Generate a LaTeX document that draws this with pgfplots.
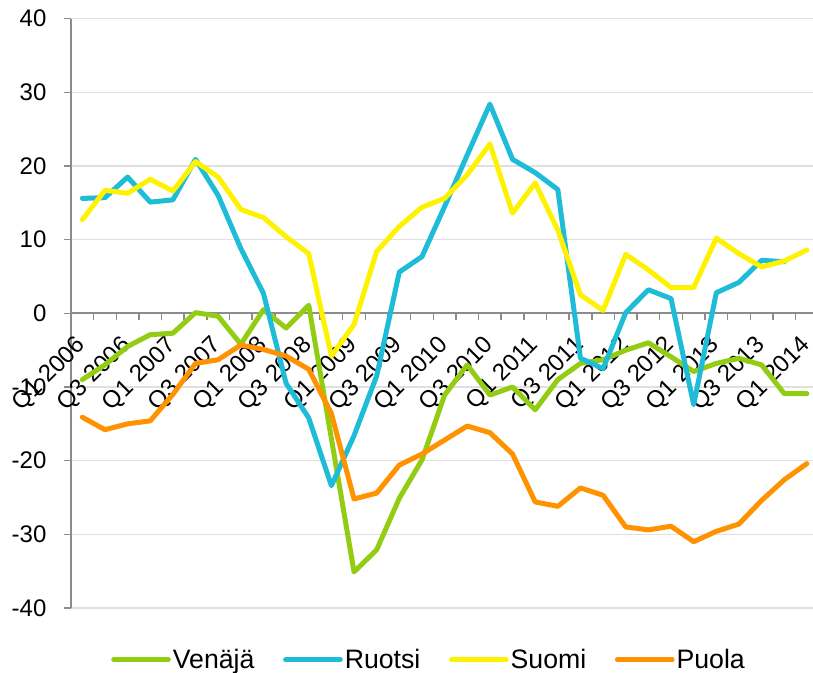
\documentclass[border=0pt]{standalone}
\usepackage{fontspec}
\setmainfont{Liberation Sans}
\usepackage{pgfplots}
\pgfplotsset{compat=1.18}
\definecolor{cGreen}{HTML}{92CD14}
\definecolor{cBlue}{HTML}{1FBCD8}
\definecolor{cYellow}{HTML}{FFF200}
\definecolor{cOrange}{HTML}{FF9200}
\definecolor{axgray}{HTML}{8C8C8C}
\definecolor{gridgray}{HTML}{E0E0E0}
\begin{document}
\begin{tikzpicture}
\begin{axis}[
  scale only axis,
  width=556.5pt, height=442pt,
  xmin=-0.5, xmax=32.27, ymin=-40, ymax=40,
  axis y line*=left,
  axis x line*=middle,
  x axis line style={axgray, line width=1.4pt, -},
  y axis line style={axgray, line width=1.4pt, -},
  ytick={-40,-30,...,40},
  yticklabels={-40,-30,-20,-10,0,10,20,30,40},
  ymajorgrids,
  grid style={gridgray, line width=1pt},
  xtick={0,2,...,32},
  xticklabels={Q1 2006,Q3 2006,Q1 2007,Q3 2007,Q1 2008,Q3 2008,Q1 2009,Q3 2009,Q1 2010,Q3 2010,Q1 2011,Q3 2011,Q1 2012,Q3 2012,Q1 2013,Q3 2013,Q1 2014},
  minor xtick={-0.5,0.5,...,31.5},
  major x tick style={draw=none},
  minor x tick style={axgray, line width=1.1pt},
  y tick style={axgray, line width=1.1pt},
  tick align=outside,
  major tick length=5.25pt, minor tick length=5.25pt,
  ticklabel style={font=\fontsize{18}{20}\selectfont},
  yticklabel style={anchor=east, inner sep=0pt},
  yticklabel shift=13pt,
  xticklabel style={rotate=45, anchor=east, inner sep=0pt},
  xticklabel shift=16pt,
  legend columns=4,
  legend style={at={(0.4825,-0.088)}, anchor=center, draw=none, fill=none,
    font=\fontsize{20}{22}\selectfont,
    nodes={inner sep=1.5pt},
    /tikz/every even column/.append style={column sep=20pt}},
  legend image code/.code={\draw[#1] (0pt,0pt) -- (41pt,0pt);},
  every axis plot/.append style={line width=3.75pt, line join=round, line cap=round, mark=none},
]
\coordinate (bl) at (rel axis cs:0,0);
\coordinate (tr) at (rel axis cs:1,1);
\addplot[cGreen] coordinates {
(0,-9.0)(1,-7.0)(2,-4.5)(3,-2.9)(4,-2.7)(5,0.1)(6,-0.4)(7,-4.2)(8,0.5)(9,-2.0)(10,1.1)
(11,-17.0)(12,-35.1)(13,-32.1)(14,-25.1)(15,-19.9)(16,-11.1)(17,-7.0)(18,-11.1)(19,-10.0)(20,-13.1)
(21,-9.0)(22,-6.8)(23,-6.3)(24,-5.0)(25,-4.0)(26,-5.9)(27,-7.9)(28,-6.8)(29,-6.1)(30,-7.0)(31,-10.9)(32,-10.9)};
\addlegendentry{Venäjä}
\addplot[cBlue] coordinates {
(0,15.6)(1,15.7)(2,18.5)(3,15.1)(4,15.4)(5,20.9)(6,16.0)(7,8.8)(8,2.7)(9,-9.5)(10,-14.2)
(11,-23.4)(12,-16.6)(13,-8.5)(14,5.6)(15,7.7)(16,14.5)(17,21.5)(18,28.4)(19,20.9)(20,19.1)
(21,16.8)(22,-6.1)(23,-7.5)(24,0.1)(25,3.2)(26,2.0)(27,-12.4)(28,2.8)(29,4.2)(30,7.2)(31,7.0)};
\addlegendentry{Ruotsi}
\addplot[cYellow] coordinates {
(0,12.7)(1,16.7)(2,16.3)(3,18.2)(4,16.6)(5,20.6)(6,18.5)(7,14.1)(8,13.0)(9,10.4)(10,8.1)
(11,-5.8)(12,-1.5)(13,8.4)(14,11.8)(15,14.4)(16,15.6)(17,18.8)(18,23.0)(19,13.6)(20,17.7)
(21,11.3)(22,2.5)(23,0.4)(24,8.0)(25,5.9)(26,3.5)(27,3.5)(28,10.2)(29,8.1)(30,6.3)(31,7.1)(32,8.6)};
\addlegendentry{Suomi}
\addplot[cOrange] coordinates {
(0,-14.1)(1,-15.8)(2,-15.0)(3,-14.6)(4,-11.0)(5,-6.8)(6,-6.3)(7,-4.3)(8,-4.9)(9,-5.8)(10,-7.6)
(11,-13.6)(12,-25.2)(13,-24.4)(14,-20.6)(15,-19.1)(16,-17.2)(17,-15.3)(18,-16.2)(19,-19.1)(20,-25.6)
(21,-26.2)(22,-23.7)(23,-24.7)(24,-29.0)(25,-29.4)(26,-28.9)(27,-31.0)(28,-29.6)(29,-28.6)(30,-25.4)(31,-22.6)(32,-20.4)};
\addlegendentry{Puola}
\end{axis}
\pgfresetboundingbox
\path ([xshift=-53.25pt,yshift=-48.75pt]bl) rectangle ([yshift=14pt]tr);
\end{tikzpicture}
\end{document}
